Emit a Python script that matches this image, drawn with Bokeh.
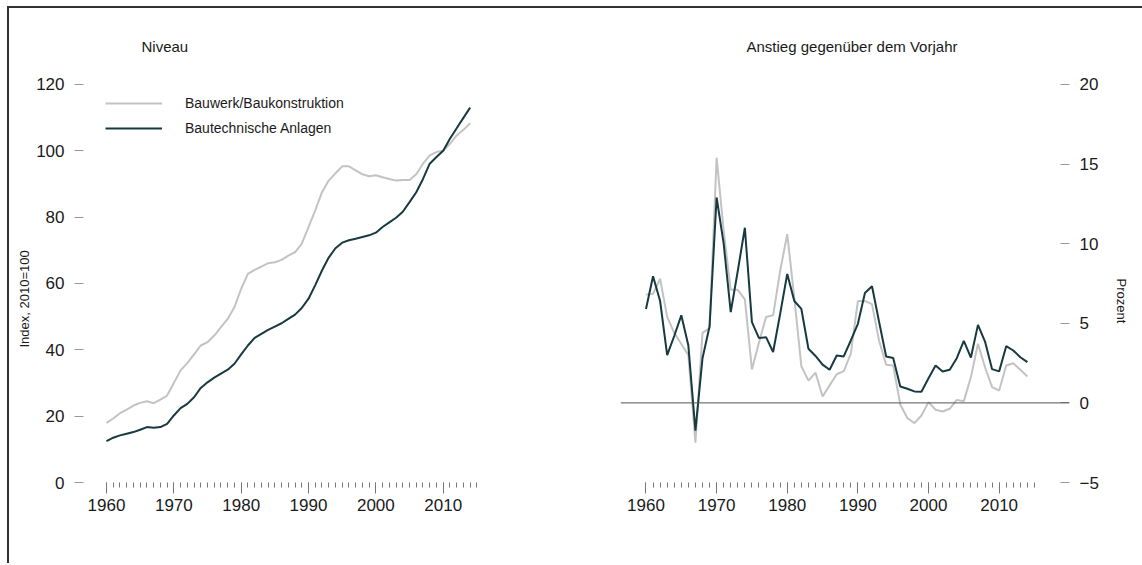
from bokeh.plotting import figure
from bokeh.layouts import row
from bokeh.models import Range1d, FixedTicker, Span, Legend, Title
from bokeh.embed import file_html
from bokeh.resources import INLINE

years = list(range(1960, 2015))

level_bauwerk = [
    18.0, 19.3, 20.9, 22.0, 23.2, 24.0, 24.5, 23.9, 25.0, 26.2,
    30.0, 33.8, 36.0, 38.6, 41.3, 42.3, 44.3, 46.8, 49.3, 52.9,
    58.4, 62.9, 64.1, 65.1, 66.1, 66.4, 67.1, 68.4, 69.4, 72.0,
    77.0, 82.0, 87.5, 91.0, 93.2, 95.3, 95.3, 94.1, 92.9, 92.3,
    92.6, 92.0, 91.5, 91.0, 91.2, 91.2, 92.9, 96.1, 98.6, 99.6,
    100.0, 102.1, 104.6, 106.3, 108.3,
]
level_technik = [
    12.5, 13.5, 14.2, 14.7, 15.2, 15.9, 16.7, 16.5, 16.7, 17.7,
    20.2, 22.4, 23.7, 25.7, 28.5, 30.2, 31.6, 32.8, 34.0, 35.8,
    38.6, 41.3, 43.6, 44.8, 46.0, 47.0, 48.0, 49.3, 50.6, 52.6,
    55.4, 59.5, 63.9, 67.8, 70.6, 72.3, 73.0, 73.5, 74.0, 74.5,
    75.3, 77.0, 78.4, 79.8, 81.6, 84.5, 87.5, 91.5, 96.1, 98.1,
    100.0, 103.6, 106.8, 109.9, 113.0,
]
growth_bauwerk = [
    6.8, 6.85, 7.8, 5.4, 4.4, 3.7, 3.0, -2.5, 4.4, 4.7,
    15.4, 10.8, 7.1, 7.1, 6.5, 2.1, 3.8, 5.4, 5.5, 8.3,
    10.6, 6.6, 2.3, 1.4, 1.9, 0.4, 1.1, 1.8, 2.0, 3.1,
    6.4, 6.4, 6.2, 3.9, 2.4, 2.35, -0.1, -0.95, -1.27, -0.79,
    0.05, -0.43, -0.54, -0.37, 0.19, 0.11, 1.62, 3.71, 2.24, 0.99,
    0.78, 2.35, 2.49, 2.08, 1.66,
]
growth_technik = [
    5.9, 7.95, 6.4, 3.0, 4.2, 5.5, 3.6, -1.75, 2.8, 4.8,
    12.9, 10.0, 5.7, 8.3, 11.0, 5.07, 4.07, 4.13, 3.2, 5.6,
    8.1, 6.4, 5.9, 3.4, 2.95, 2.4, 2.08, 2.98, 2.92, 3.92,
    4.97, 6.9, 7.33, 5.1, 2.91, 2.82, 1.03, 0.89, 0.72, 0.7,
    1.55, 2.35, 1.97, 2.08, 2.81, 3.9, 2.85, 4.9, 3.85, 2.12,
    1.98, 3.56, 3.29, 2.87, 2.56,
]

series_names = ["Bauwerk/Baukonstruktion", "Bautechnische Anlagen"]
x_major = [1960, 1970, 1980, 1990, 2000, 2010]
x_minor = list(range(1960, 2016))
y_ticks_left = [0, 20, 40, 60, 80, 100, 120]
y_ticks_right = [-5, 0, 5, 10, 15, 20]
title_left = "Niveau"
title_right = "Anstieg gegenüber dem Vorjahr"
ylabel_left = "Index, 2010=100"
ylabel_right = "Prozent"

GRAY = "#c3c3c3"
DARK = "#163a40"
FONT = "Liberation Sans"
TXT = "#1a1a1a"


def style_x(p):
    ax = p.xaxis[0]
    ax.ticker = FixedTicker(ticks=x_major, minor_ticks=x_minor)
    ax.axis_line_color = None
    ax.major_tick_line_color = "#777777"
    ax.minor_tick_line_color = "#777777"
    ax.major_tick_out = 11
    ax.major_tick_in = 0
    ax.minor_tick_out = 5
    ax.minor_tick_in = 0
    ax.major_label_text_font = FONT
    ax.major_label_text_font_size = "17px"
    ax.major_label_text_color = TXT
    ax.major_label_standoff = 5


def style_y(ax, ticks, tick_in, tick_out):
    ax.ticker = FixedTicker(ticks=ticks)
    ax.axis_line_color = None
    ax.major_tick_line_color = "#999999"
    ax.minor_tick_line_color = None
    ax.major_tick_in = tick_in
    ax.major_tick_out = tick_out
    ax.major_label_text_font = FONT
    ax.major_label_text_font_size = "17px"
    ax.major_label_text_color = TXT
    ax.major_label_standoff = 10


def style_title(t, offset):
    t.text_font = FONT
    t.text_font_size = "15px"
    t.text_font_style = "normal"
    t.text_color = TXT
    t.align = "left"
    t.offset = offset
    t.standoff = 15


# ---------- left panel ----------
p1 = figure(width=559, height=555, output_backend="svg", toolbar_location=None,
            x_range=Range1d(1956.585, 2021.48), y_range=Range1d(0, 126.6),
            min_border_left=74, min_border_right=48, min_border_top=54, min_border_bottom=81)
p1.outline_line_color = None
p1.grid.grid_line_color = None
style_x(p1)
style_y(p1.yaxis[0], y_ticks_left, 0, 9)
p1.title.text = title_left
style_title(p1.title, 58)

r1 = p1.line(years, level_bauwerk, line_color=GRAY, line_width=2)
r2 = p1.line(years, level_technik, line_color=DARK, line_width=2)
leg = Legend(items=[(series_names[0], [r1]), (series_names[1], [r2])],
             location=(22, 344), padding=0, margin=0, spacing=5,
             glyph_width=57, glyph_height=20, label_height=20, label_standoff=23,
             label_text_font=FONT, label_text_font_size="14px", label_text_color=TXT,
             border_line_color=None, background_fill_alpha=0)
p1.add_layout(leg, "center")

p1.add_layout(Title(text=ylabel_left, align="left", offset=135, standoff=4, text_font=FONT,
                    text_font_size="13px", text_font_style="normal", text_color=TXT),
              "left")

# ---------- right panel ----------
p2 = figure(width=574, height=555, output_backend="svg", toolbar_location=None,
            x_range=Range1d(1956.393, 2019.96), y_range=Range1d(-5, 21.38),
            y_axis_location="right",
            min_border_left=52, min_border_right=69, min_border_top=54, min_border_bottom=81)
p2.outline_line_color = None
p2.grid.grid_line_color = None
style_x(p2)
style_y(p2.yaxis[0], y_ticks_right, 9, 0)
p2.title.text = title_right
style_title(p2.title, 126)

p2.add_layout(Span(location=0, dimension="width", line_color="#555555", line_width=1))
p2.line(years, growth_bauwerk, line_color=GRAY, line_width=2)
p2.line(years, growth_technik, line_color=DARK, line_width=2)

p2.add_layout(Title(text=ylabel_right, align="left", offset=216, standoff=24, text_font=FONT,
                    text_font_size="13px", text_font_style="normal", text_color=TXT),
              "right")

layout = row(p1, p2, styles={"border-top": "2px solid #333333",
                             "border-left": "2px solid #333333",
                             "margin-top": "6px", "margin-left": "7px"})

open("out.html", "w").write(file_html(layout, INLINE))
